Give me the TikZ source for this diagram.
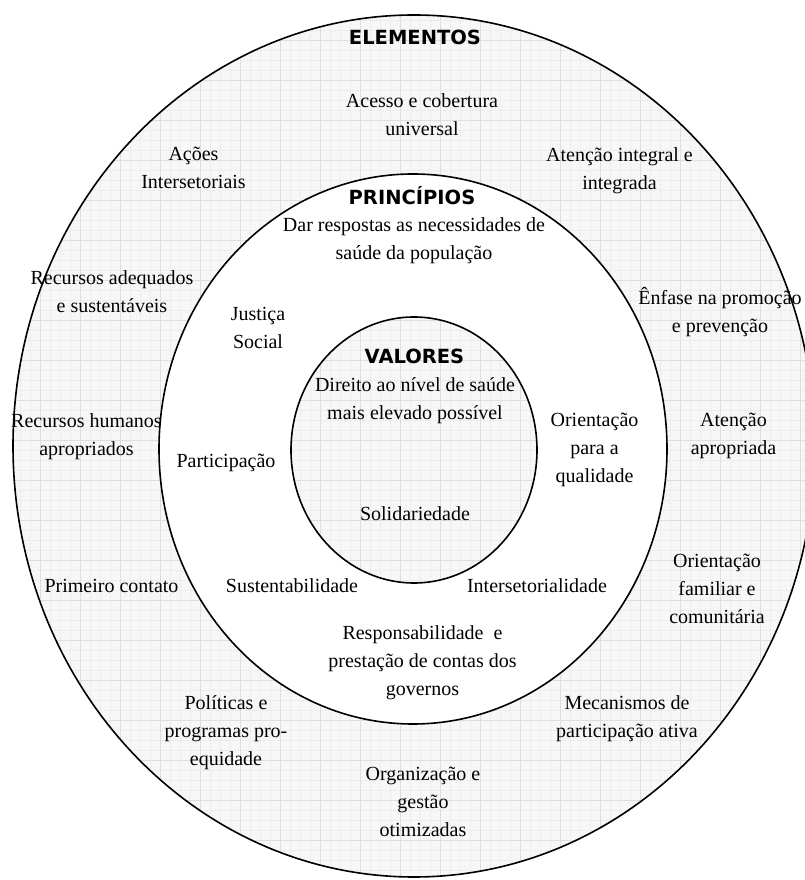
\documentclass[tikz,border=0pt]{standalone}
\usepackage{fontspec}
\setmainfont{Liberation Serif}
\newfontfamily\headfont{DejaVu Sans}
\begin{document}
\begin{tikzpicture}[x=1pt,y=1pt,
  ring/.style={line width=1.6pt, draw=black},
  gridfill/.style={fill=black!3},
  minorgrid/.style={draw=black!7, line width=0.3pt},
  majorgrid/.style={draw=black!13, line width=0.5pt},
  lbl/.style={anchor=north, inner sep=0pt, align=center,
    font=\fontsize{20}{28}\selectfont,
    execute at begin node=\strut, execute at end node=\strut},
  head/.style={anchor=base, inner sep=0pt,
    font=\headfont\bfseries\fontsize{19.5}{24}\selectfont}]
\useasboundingbox (0,0) rectangle (805,880);
\fill[white] (0,0) rectangle (805,880);
% centres
\coordinate (co) at (414,434);
\coordinate (cm) at (413,431);
\coordinate (ci) at (414,430);
% outer ring background with grid
\begin{scope}
  \clip (co) ellipse [x radius=401pt, y radius=431pt];
  \fill[gridfill] (0,0) rectangle (830,880);
  \draw[minorgrid] (0,0) grid[step=10pt] (830,880);
  \draw[majorgrid] (0,0) grid[step=40pt] (830,880);
\end{scope}
\fill[white] (cm) ellipse [x radius=254pt, y radius=275pt];
\begin{scope}
  \clip (ci) ellipse [x radius=123pt, y radius=133pt];
  \fill[gridfill] (0,0) rectangle (830,880);
  \draw[minorgrid] (0,0) grid[step=10pt] (830,880);
  \draw[majorgrid] (0,0) grid[step=40pt] (830,880);
\end{scope}
% ellipses
\draw[ring] (co) ellipse [x radius=401pt, y radius=431pt];
\draw[ring] (cm) ellipse [x radius=254pt, y radius=275pt];
\draw[ring] (ci) ellipse [x radius=123pt, y radius=133pt];
% headings
\node[head] (hel) at (415,835) {ELEMENTOS};
\node[head] (hpr) at (412,675) {PRINCÍPIOS};
\node[head] (hva) at (414.5,516) {VALORES};
% elementos
\node[lbl] (e1) at (422,787) {Acesso e cobertura\\universal};
\node[lbl] (e2) at (193.5,733) {Ações\\Intersetoriais};
\node[lbl] (e3) at (619.5,733) {Atenção integral e\\integrada};
\node[lbl] (e4) at (112,610) {Recursos adequados\\e sustentáveis};
\node[lbl] (e5) at (720,593) {Ênfase na promoção\\e prevenção};
\node[lbl] (e6) at (86.5,467) {Recursos humanos\\apropriados};
\node[lbl] (e7) at (733.5,467) {Atenção\\apropriada};
\node[lbl] (e8) at (111.5,307) {Primeiro contato};
\node[lbl] (e9) at (717,326) {Orientação\\familiar e\\comunitária};
\node[lbl] (e10) at (226,185) {Políticas e\\programas pro-\\equidade};
\node[lbl] (e11) at (627,185) {Mecanismos de\\participação ativa};
\node[lbl] (e12) at (423,113) {Organização e\\gestão\\otimizadas};
% principios
\node[lbl] (p1) at (414,663) {Dar respostas as necessidades de\\saúde da população};
\node[lbl] (p2) at (258,573) {Justiça\\Social};
\node[lbl] (p3) at (226,432) {Participação};
\node[lbl] (p4) at (594.5,467) {Orientação\\para a\\qualidade};
\node[lbl] (p5) at (292,307) {Sustentabilidade};
\node[lbl] (p6) at (537,307) {Intersetorialidade};
\node[lbl] (p7) at (422.5,255) {Responsabilidade~ e\\prestação de contas dos\\governos};
% valores
\node[lbl] (v1) at (415,503) {Direito ao nível de saúde\\mais elevado possível};
\node[lbl] (v2) at (415,379) {Solidariedade};
\end{tikzpicture}
\end{document}
